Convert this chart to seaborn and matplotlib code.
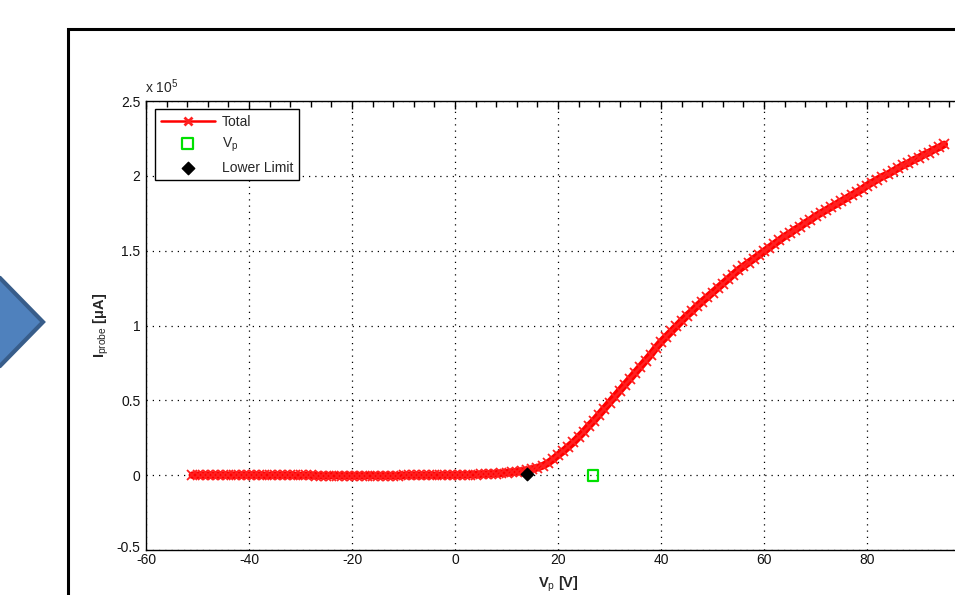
import matplotlib
matplotlib.use("Agg")
import matplotlib.pyplot as plt
import matplotlib.patches as mpatches
import matplotlib.transforms as mtransforms
from matplotlib.ticker import MultipleLocator, FixedLocator
import seaborn as sns
import pandas as pd

# ---- data (current in units of 1e5 uA) ----
vp_total = list(range(-51, 96))
i_total = [
    0.000, 0.000, 0.000, 0.000, 0.000, 0.000, 0.000, 0.000, 0.000, 0.000,   # -51..-42
    0.000, 0.000, 0.000, -0.001, -0.001, -0.001, -0.001, -0.001, -0.001, -0.001,  # -41..-32
    -0.002, -0.002, -0.002, -0.002, -0.003, -0.003, -0.003, -0.003, -0.003, -0.003,  # -31..-22
    -0.003, -0.003, -0.003, -0.003, -0.003, -0.003, -0.003, -0.003, -0.003, -0.003,  # -21..-12
    -0.003, -0.002, -0.002, -0.002, -0.002, -0.002, -0.001, -0.001, -0.001, 0.000,   # -11..-2
    0.000, 0.000, 0.001, 0.002, 0.003, 0.004, 0.005, 0.007, 0.009, 0.011,   # -1..8
    0.013, 0.016, 0.019, 0.023, 0.027, 0.032, 0.040, 0.050, 0.062, 0.080,   # 9..18
    0.105, 0.134, 0.160, 0.190, 0.220, 0.255, 0.290, 0.330, 0.365, 0.405,   # 19..28
    0.445, 0.485, 0.525, 0.565, 0.605, 0.645, 0.685, 0.725, 0.765, 0.805,   # 29..38
    0.850, 0.890, 0.925, 0.960, 0.995, 1.030, 1.065, 1.095, 1.130, 1.160,   # 39..48
    1.190, 1.220, 1.250, 1.280, 1.310, 1.340, 1.370, 1.395, 1.420, 1.445,   # 49..58
    1.470, 1.495, 1.520, 1.545, 1.570, 1.595, 1.615, 1.640, 1.660, 1.685,   # 59..68
    1.705, 1.730, 1.750, 1.770, 1.790, 1.810, 1.830, 1.850, 1.870, 1.890,   # 69..78
    1.910, 1.935, 1.955, 1.975, 1.995, 2.010, 2.030, 2.050, 2.070, 2.085,   # 79..88
    2.105, 2.120, 2.140, 2.155, 2.175, 2.190, 2.210,                        # 89..95
]
vp_point_x = [26.8]
vp_point_y = [0.0]
lower_x = [13.9]
lower_y = [0.007]

x_ticks = [-60, -40, -20, 0, 20, 40, 60, 80]
x_ticklabels = ["-60", "-40", "-20", "0", "20", "40", "60", "80"]
y_ticks = [-0.5, 0, 0.5, 1, 1.5, 2, 2.5]
y_ticklabels = ["-0.5", "0", "0.5", "1", "1.5", "2", "2.5"]

sns.set_style("white")
plt.rcParams["font.family"] = ["Liberation Sans", "DejaVu Sans"]
plt.rcParams["mathtext.fontset"] = "custom"
plt.rcParams["mathtext.rm"] = "Liberation Sans"
plt.rcParams["mathtext.it"] = "Liberation Sans"
plt.rcParams["mathtext.bf"] = "Liberation Sans:bold"

FS = 10

fig = plt.figure(figsize=(9.55, 5.95), dpi=100)
fig.patch.set_facecolor("white")

W, H = 955, 595
# panel border (figure frame)
top_frac = 1 - 29 / H
fig.patches.append(mpatches.Rectangle((68 / W, -0.2), 1.2, top_frac + 0.2,
                                      transform=fig.transFigure, fill=False,
                                      edgecolor="black", linewidth=2.2))
# blue arrow on the left
arrow_pts = [(-20, 278), (0, 278), (43, 322), (0, 366), (-20, 366)]
arrow_pts = [(x / W, 1 - y / H) for x, y in arrow_pts]
fig.patches.append(mpatches.Polygon(arrow_pts, closed=True, transform=fig.transFigure,
                                    facecolor="#4F81BD", edgecolor="#385D8A",
                                    linewidth=3, joinstyle="miter"))

ax = fig.add_axes([146 / W, 1 - 550 / H, 824 / W, 449 / H])

df_total = pd.DataFrame({"Vp": vp_total, "I": i_total})
sns.lineplot(data=df_total, x="Vp", y="I", ax=ax, color="red", linewidth=5.5,
             marker="x", markersize=6.5, markeredgewidth=1.3, markeredgecolor="#ff2020",
             label="Total", sort=False, zorder=3)
sns.scatterplot(x=vp_point_x, y=vp_point_y, ax=ax, marker="s", s=60,
                facecolor="none", edgecolor="#00E000", linewidth=1.6,
                label="V$_\\mathrm{p}$", zorder=4)
sns.scatterplot(x=lower_x, y=lower_y, ax=ax, marker="D", s=40,
                color="black", edgecolor="black", linewidth=1,
                label="Lower Limit", zorder=5)

ax.set_xlim(-60, 100)
ax.set_ylim(-0.5, 2.5)
ax.xaxis.set_major_locator(FixedLocator(x_ticks))
ax.set_xticklabels(x_ticklabels)
ax.xaxis.set_minor_locator(MultipleLocator(4))
ax.yaxis.set_major_locator(FixedLocator(y_ticks))
ax.set_yticklabels(y_ticklabels)
ax.yaxis.set_minor_locator(MultipleLocator(0.25))

ax.tick_params(which="both", direction="in", top=True, right=True,
               color="black", labelsize=FS, labelcolor="#111111", width=1)
ax.tick_params(which="major", length=6, pad=4)
ax.tick_params(which="minor", length=4)
ax.tick_params(axis="x", which="major", pad=2.5)

# nudge the lowest y label up a little so it does not collide with "-60"
lowest = ax.get_yticklabels()[0]
lowest.set_transform(lowest.get_transform() +
                     mtransforms.ScaledTranslation(0, 4 / 100, fig.dpi_scale_trans))

ax.grid(True, which="major", linestyle=(0, (1, 4)), color="black", linewidth=0.9)
for s in ax.spines.values():
    s.set_color("black")
    s.set_linewidth(1)
    s.set_visible(True)

ax.set_xlabel(r"$\mathbf{V_{\mathrm{p}}}$ $\mathbf{[V]}$", fontsize=10.5, labelpad=5)
ax.set_ylabel(r"$\mathbf{I}_{\mathrm{probe}}$ $\mathbf{[\mu A]}$", fontsize=10.5, labelpad=4)

ax.text(-0.001, 1.012, r"x 10$^{5}$", transform=ax.transAxes, fontsize=FS,
        ha="left", va="bottom")

leg = ax.legend(loc="upper left", bbox_to_anchor=(0.011, 0.982), borderaxespad=0,
                fancybox=False, framealpha=1, edgecolor="black", fontsize=FS,
                handlelength=3.9, labelspacing=0.5, borderpad=0.4, handletextpad=0.5)
leg.get_frame().set_linewidth(1)
h0 = leg.legend_handles[0]
h0.set_linewidth(1.8)
h0.set_markersize(6)
h0.set_markeredgewidth(2)

fig.savefig("out.png", dpi=100)
